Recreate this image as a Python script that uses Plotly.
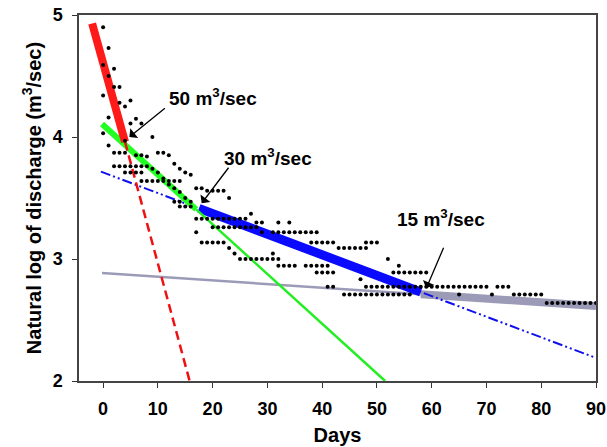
import plotly.graph_objects as go

# ---- observed points (day, natural log of discharge) ----
dot_days = [
    0, 1, 0, 2, 1, 2, 3, 0, 3, 5, 4, 1, 6, 5, 7, 0, 9, 1, 4,
    2, 3, 4, 10, 11,
    6, 7, 8, 12,
    2, 3, 4, 5, 6, 7, 8,
    13, 14,
    4, 5, 6, 7, 15, 16,
    7, 8, 9, 10, 11, 12, 13, 14,
    9, 10, 11, 12, 13, 14, 15, 16,
    17, 18, 19, 20, 21, 22,
    23, 13, 14,
    14, 15, 16,
    17, 18, 19, 20, 21, 22, 23, 24, 25, 26,
    17, 27,
    28, 29, 32, 34,
    20, 21, 22, 23, 24, 25, 26, 27, 28,
    29, 31, 32, 33, 34, 35, 36, 37, 38, 39,
    18, 19, 20, 21, 22, 38, 39, 40, 41, 42, 48, 49, 50,
    23, 24, 31,
    43, 44, 45, 46, 47, 48,
    25, 26, 27, 28, 29, 30, 31, 32, 52,
    32, 33, 34, 35, 37, 38, 39, 40, 41, 54,
    39, 40, 41, 42, 53, 54, 55, 56, 57, 58, 59,
    47,
    41, 42, 48, 49, 50, 51, 52, 53, 54, 55, 56, 57, 58, 59, 60, 61, 62, 63,
    64, 65, 66, 67, 68, 69, 70, 72, 73, 74,
    44, 45, 46, 47, 48, 49, 50, 51, 52, 53, 54, 55, 56, 65, 71,
    75, 76, 77, 78, 79, 80,
    81, 82, 83, 84, 85, 86, 87, 88, 89, 90,
]
dot_lnq = [
    4.90, 4.73, 4.59, 4.56, 4.50, 4.41, 4.41, 4.34, 4.28, 4.30, 4.25, 4.16, 4.15, 4.11, 4.11, 4.03, 4.00, 3.93, 3.97,
    3.87, 3.87, 3.87, 3.87, 3.87,
    3.85, 3.85, 3.84, 3.85,
    3.76, 3.76, 3.76, 3.76, 3.76, 3.76, 3.76,
    3.78, 3.74,
    3.71, 3.71, 3.71, 3.71, 3.71, 3.69,
    3.64, 3.64, 3.64, 3.64, 3.64, 3.64, 3.64, 3.64,
    3.74, 3.71, 3.66, 3.61, 3.58, 3.55, 3.50, 3.47,
    3.58, 3.58, 3.56, 3.56, 3.56, 3.56,
    3.50, 3.47, 3.47,
    3.43, 3.43, 3.43,
    3.33, 3.33, 3.33, 3.33, 3.33, 3.33, 3.33, 3.33, 3.33, 3.33,
    3.22, 3.37,
    3.30, 3.30, 3.30, 3.30,
    3.26, 3.26, 3.26, 3.26, 3.26, 3.26, 3.26, 3.26, 3.26,
    3.22, 3.22, 3.22, 3.22, 3.22, 3.22, 3.22, 3.22, 3.22, 3.22,
    3.135, 3.135, 3.135, 3.135, 3.135, 3.135, 3.135, 3.135, 3.135, 3.135, 3.135, 3.135, 3.135,
    3.09, 3.045, 3.045,
    3.09, 3.09, 3.09, 3.09, 3.09, 3.09,
    3.0, 3.0, 3.0, 3.0, 3.0, 3.0, 3.0, 3.0, 3.0,
    2.944, 2.944, 2.944, 2.944, 2.944, 2.944, 2.944, 2.944, 2.944, 2.944,
    2.89, 2.89, 2.89, 2.89, 2.89, 2.89, 2.89, 2.89, 2.89, 2.89, 2.89,
    2.833,
    2.773, 2.773, 2.773, 2.773, 2.773, 2.773, 2.773, 2.773, 2.773, 2.773, 2.773, 2.773, 2.773, 2.773, 2.773, 2.773, 2.773, 2.773,
    2.773, 2.773, 2.773, 2.773, 2.773, 2.773, 2.773, 2.773, 2.773, 2.773,
    2.708, 2.708, 2.708, 2.708, 2.708, 2.708, 2.708, 2.708, 2.708, 2.708, 2.708, 2.708, 2.708, 2.708, 2.708,
    2.708, 2.708, 2.708, 2.708, 2.708, 2.708,
    2.639, 2.639, 2.639, 2.639, 2.639, 2.639, 2.639, 2.639, 2.639, 2.639,
]

# ---- fitted recession segments (end points) ----
red_fit_x = [-2.0, 4.0]
red_fit_y = [4.93, 3.96]
red_ext_x = [4.0, 15.8]
red_ext_y = [3.96, 2.0]

green_fit_x = [-0.2, 17.0]
green_fit_y = [4.107, 3.407]
green_ext_x = [17.0, 51.5]
green_ext_y = [3.407, 2.0]

blue_ext_x = [-0.4, 90.0]
blue_ext_y = [3.716, 2.189]
blue_fit_x = [17.5, 58.0]
blue_fit_y = [3.415, 2.73]

gray_ext_x = [-0.2, 58.0]
gray_ext_y = [2.885, 2.711]
gray_fit_x = [58.0, 90.0]
gray_fit_y = [2.711, 2.615]

x_ticks = [0, 10, 20, 30, 40, 50, 60, 70, 80, 90]
y_ticks = [2, 3, 4, 5]

FONT = "Liberation Sans, Arial, sans-serif"
GRAY = "#9b9bb8"

fig = go.Figure()

def line(x, y, color, width, dash="solid"):
    fig.add_trace(go.Scatter(x=x, y=y, mode="lines", showlegend=False,
                             line=dict(color=color, width=width, dash=dash)))

line(gray_ext_x, gray_ext_y, GRAY, 2.5)
line(gray_fit_x, gray_fit_y, GRAY, 8)
line(blue_ext_x, blue_ext_y, "#1010ee", 2, "10px,3px,2px,3px,2px,3px")
line(blue_fit_x, blue_fit_y, "#0a0aff", 9)
line(green_ext_x, green_ext_y, "#22ee22", 2.5)
line(green_fit_x, green_fit_y, "#22ff22", 6)
line(red_ext_x, red_ext_y, "#ee1111", 2.5, "9px,5px")
line(red_fit_x, red_fit_y, "#ff1a1a", 8)

fig.add_trace(go.Scatter(x=dot_days, y=dot_lnq, mode="markers", showlegend=False,
                         marker=dict(color="black", size=4)))

labels = [
    ("50 m<sup>3</sup>/sec", 20.1, 4.33, 4.8, 4.0, 37, -30),
    ("30 m<sup>3</sup>/sec", 30.1, 3.84, 18.0, 3.457, 28, -37),
    ("15 m<sup>3</sup>/sec", 61.7, 3.336, 59.0, 2.76, 18, -42),
]
for txt, tx, ty, axx, axy, dx, dy in labels:
    fig.add_annotation(x=tx, y=ty, text=txt, showarrow=False,
                       font=dict(family=FONT, size=19, color="black", weight="bold"))
    fig.add_annotation(x=axx, y=axy, text="", showarrow=True, ax=dx, ay=dy,
                       arrowhead=1, arrowsize=1.6, arrowwidth=1.3,
                       arrowcolor="black", standoff=0)

fig.update_layout(
    width=607, height=447,
    margin=dict(l=79, r=11, t=15, b=66, autoexpand=False),
    paper_bgcolor="white", plot_bgcolor="white",
    font=dict(family=FONT, color="black"),
)
fig.update_xaxes(
    range=[-4.4, 90], tickvals=x_ticks, ticks="outside", ticklen=5,
    tickcolor="#333", showgrid=False, zeroline=False, showline=True,
    linecolor="#444", linewidth=1.5, mirror=True, automargin=False,
    tickfont=dict(family=FONT, size=18, weight="bold"),
    ticklabelstandoff=6,
    title=dict(text="Days", font=dict(family=FONT, size=20, weight="bold"), standoff=10),
)
fig.update_yaxes(
    range=[2, 5], tickvals=y_ticks, ticks="outside", ticklen=5,
    tickcolor="#333", showgrid=False, zeroline=False, showline=True,
    linecolor="#444", linewidth=1.5, mirror=True, automargin=False,
    tickfont=dict(family=FONT, size=18, weight="bold"),
    ticklabelstandoff=6,
    title=dict(text="Natural log of discharge (m<sup>3</sup>/sec)",
               font=dict(family=FONT, size=20, weight="bold"), standoff=6),
)

fig.write_html("out.html", config={"displayModeBar": False},
               post_script="document.body.style.margin='0';document.body.style.padding='0';")
